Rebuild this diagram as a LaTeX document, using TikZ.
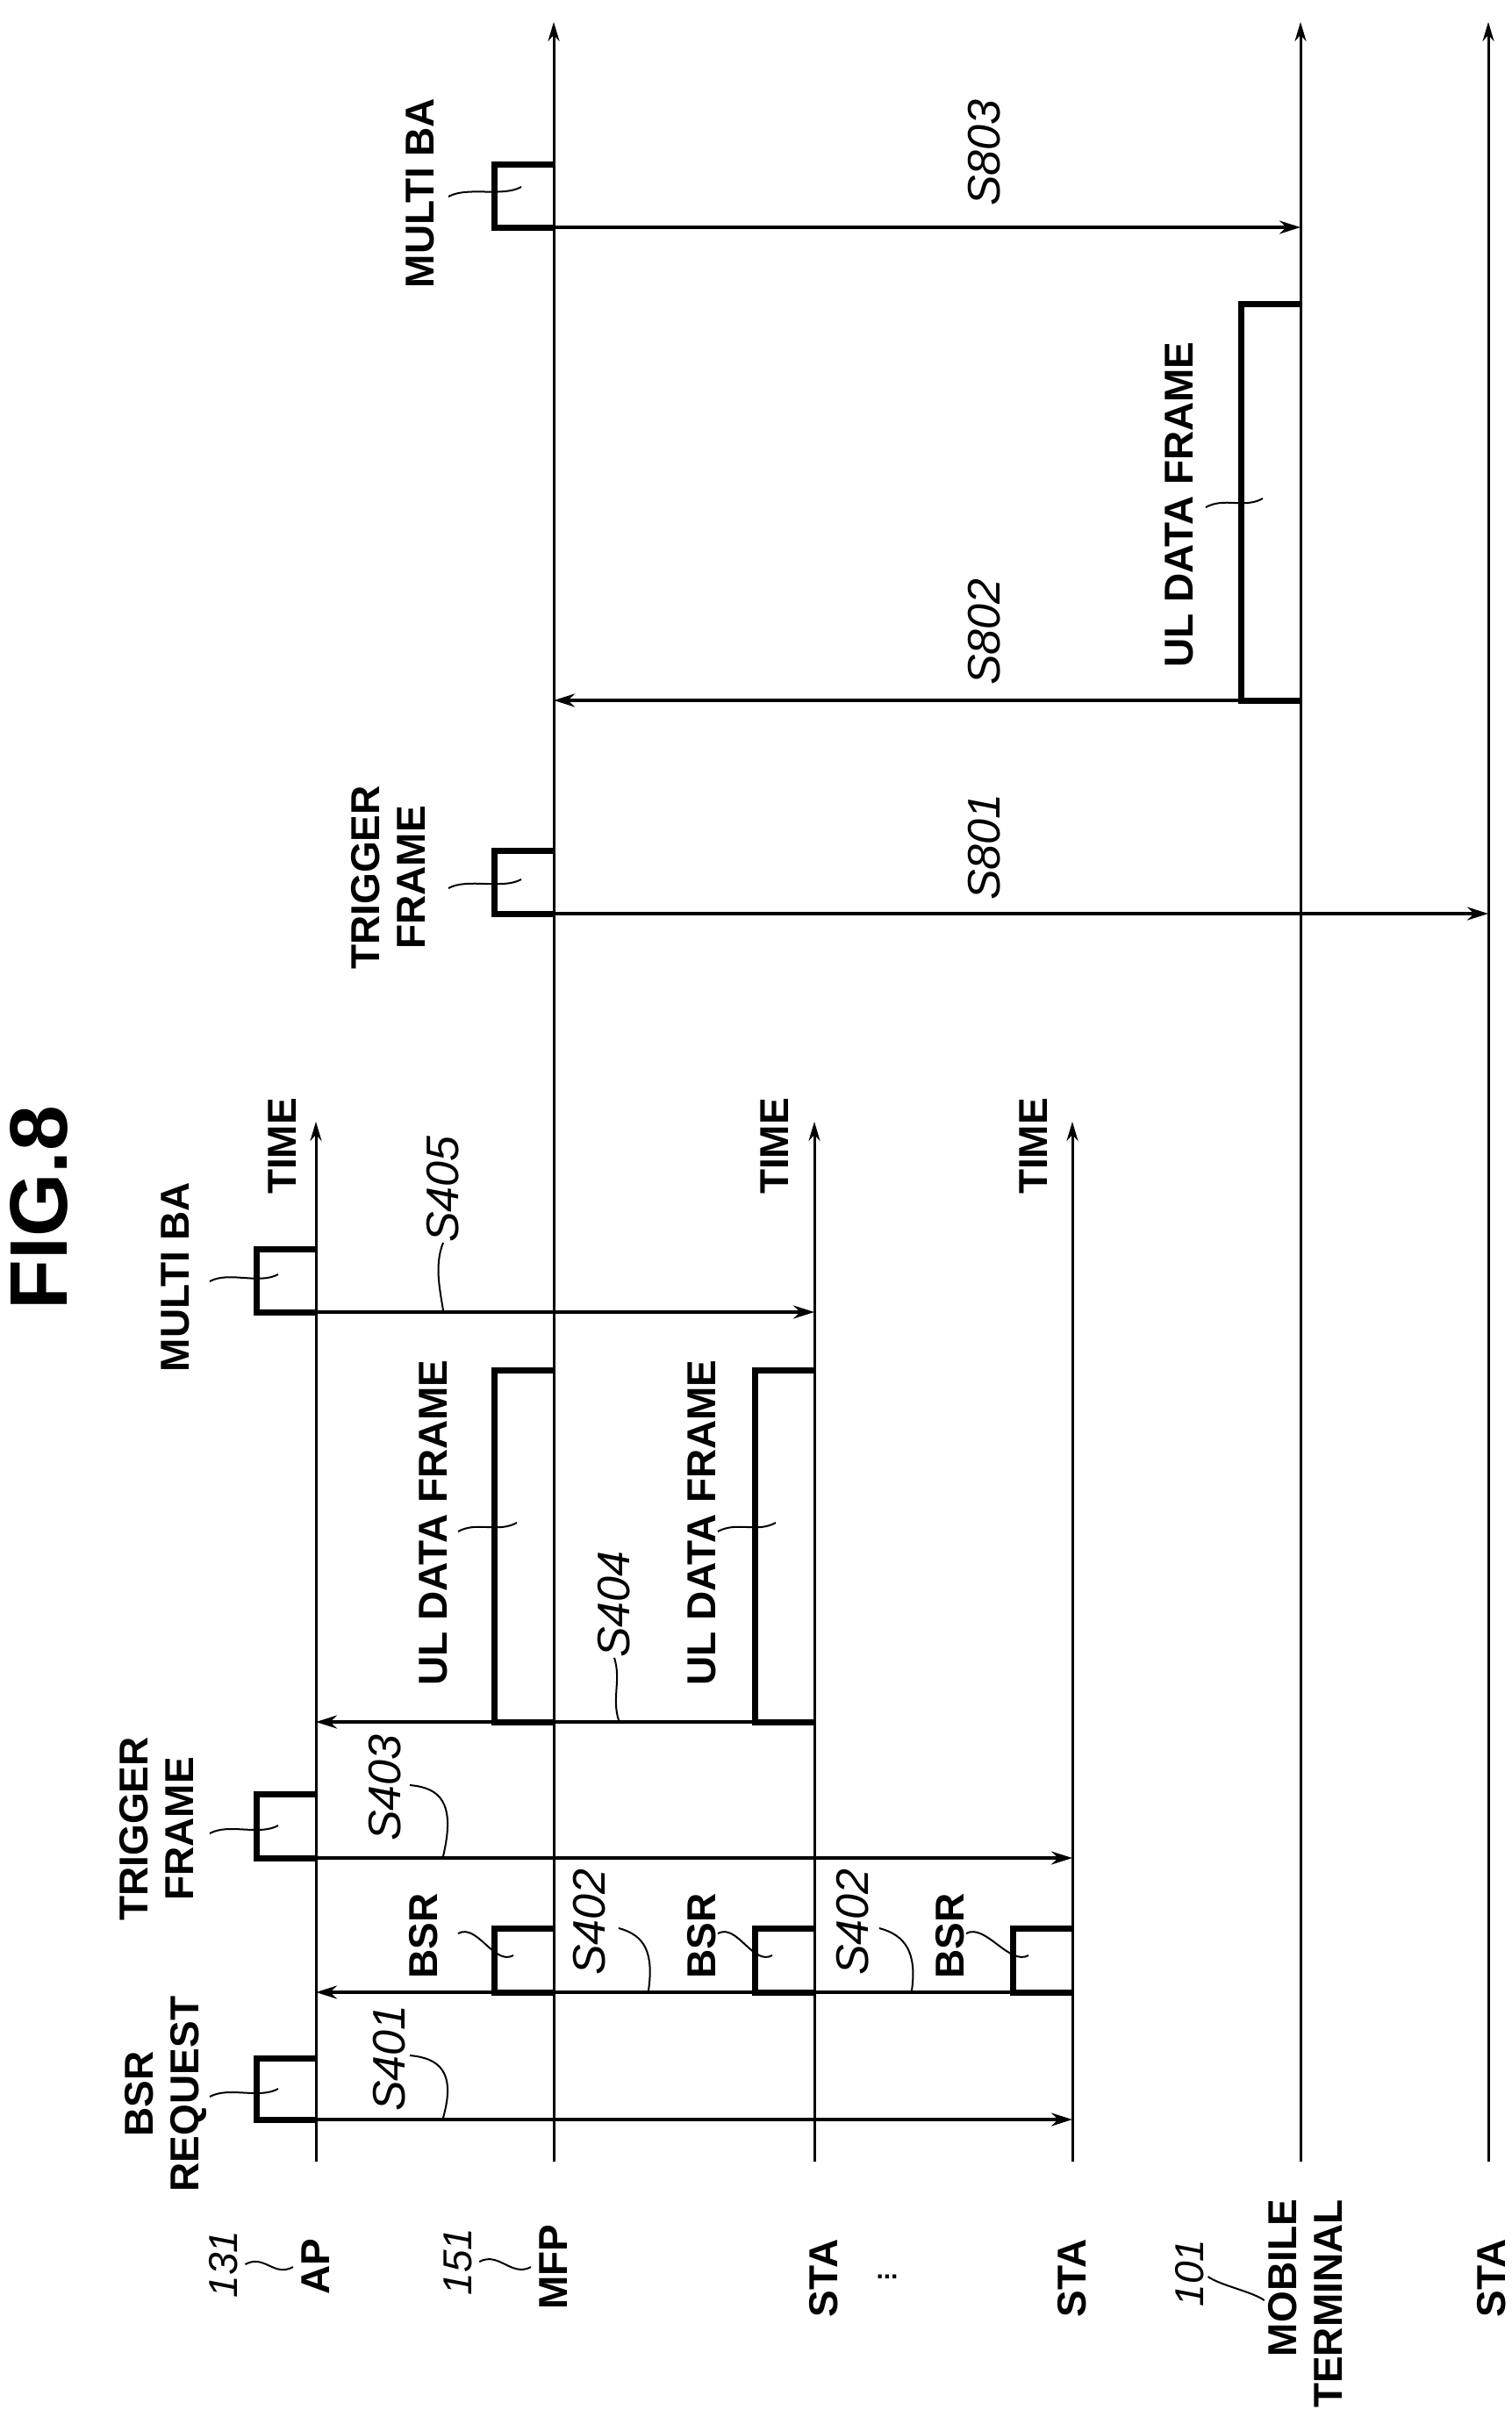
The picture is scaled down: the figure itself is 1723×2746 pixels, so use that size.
\documentclass[tikz,border=0pt]{standalone}
\usepackage{fontspec}
\setmainfont{Liberation Sans}
\usetikzlibrary{arrows.meta,calc}

\tikzset{
  lifeline/.style={line width=3pt},
  msg/.style={line width=3.5pt,-{Stealth[length=24pt,width=15pt]}},
  frm/.style={line width=7pt},
  lead/.style={line width=2pt},
  txt/.style={rotate=90,font=\fontsize{46}{52}\selectfont\bfseries,align=center,inner sep=0pt},
  steplbl/.style={rotate=90,font=\fontsize{52}{56}\selectfont\itshape,inner sep=0pt},
  reflbl/.style={rotate=90,font=\fontsize{46}{50}\selectfont\itshape,inner sep=0pt},
}
% box on a lifeline: x of line, top y, bottom y
\newcommand{\frmbox}[3]{\draw[frm] (#1,#2) -| (#1-68,#3) -- (#1,#3);}
% squiggle leader
\newcommand{\squig}[2]{\draw[lead] #1 .. controls +(22,-12) and +(-22,12) .. #2;}

\begin{document}
\begin{tikzpicture}[x=1pt,y=-1pt]
    \useasboundingbox (0,0) rectangle (1723,2746);

    % lifelines
    \foreach \n/\x/\t in {ap/360/1278,mfp/631/25,staa/928/1278,stab/1222/1278,mt/1482/25,stac/1696/25} {
        \coordinate (\n B) at (\x,2463);
        \coordinate (\n T) at (\x,\t);
        \draw[lifeline,-{Stealth[length=22pt,width=13pt]}] (\n B) -- (\n T);
    }

    \node[txt,font=\fontsize{93}{96}\selectfont\bfseries] (fig) at (44,1376) {FIG.8};
    \foreach \x [count=\i] in {322,883,1178} {\node[txt] (time\i) at (\x,1306) {TIME};}

    % labels under the lifelines
    \node[reflbl] (n131) at (255,2580) {131};
    \node[txt] (lap) at (360,2583) {AP};
    \node[reflbl] (n151) at (522,2577) {151};
    \node[txt] (lmfp) at (631,2583) {MFP};
    \node[txt] (lsta1) at (939,2596) {STA};
    \node[font=\fontsize{30}{30}\selectfont\bfseries,inner sep=0pt] (ldots) at (1011,2594) {...};
    \node[txt] (lsta2) at (1222,2596) {STA};
    \node[reflbl] (n101) at (1356,2590) {101};
    \node[txt,align=right] (lmt) at (1487,2625) {MOBILE\\TERMINAL};
    \node[txt] (lsta3) at (1700,2596) {STA};
    \squig{($(n131.south)+(8,0)$)}{($(lap.north)+(-10,0)$)}
    \squig{($(n151.south)+(8,0)$)}{($(lmfp.north)+(-10,0)$)}
    \draw[lead] ($(n101.south)+(4,4)$) .. controls +(14,10) and +(-14,-10) .. ($(lmt.north)+(-4,-4)$);

    % frames
    \frmbox{360}{2345}{2415}
    \frmbox{360}{2044}{2117}
    \frmbox{360}{1423}{1495}
    \foreach \x in {631,928,1222} {\frmbox{\x}{2197}{2270}}
    \frmbox{631}{1561}{1962}
    \frmbox{928}{1561}{1962}
    \frmbox{631}{969}{1041}
    \frmbox{631}{187}{259}
    \frmbox{1482}{346}{798}

    % frame names
    \node[txt] (bsrq) at (189,2386) {BSR\\REQUEST};
    \node[txt] (trg) at (178,2084) {TRIGGER\\FRAME};
    \node[txt] (mba) at (200,1455) {MULTI BA};
    \node[txt] (ul1) at (494,1735) {UL DATA FRAME};
    \node[txt] (ul2) at (800,1735) {UL DATA FRAME};
    \foreach \x [count=\i] in {483,800,1083} {\node[txt] (bsr\i) at (\x,2206) {BSR};}
    \node[txt] (trg2) at (442,1000) {TRIGGER\\FRAME};
    \node[txt] (mba2) at (479,220) {MULTI BA};
    \node[txt] (ul3) at (1344,575) {UL DATA FRAME};
    \squig{(239,2389)}{(317,2380)}
    \squig{(239,2089)}{(317,2080)}
    \squig{(239,1460)}{(317,1452)}
    \squig{(522,1745)}{(589,1735)}
    \squig{(818,1745)}{(884,1735)}
    \squig{(522,2203)}{(585,2228)}
    \squig{(818,2203)}{(880,2228)}
    \squig{(1101,2203)}{(1172,2228)}
    \squig{(511,1012)}{(594,1002)}
    \squig{(511,224)}{(594,213)}
    \squig{(1374,578)}{(1439,568)}

    % messages
    \draw[msg] (360,2415) -- (stabB |- 0,2415);
    \draw[msg] (1222,2270) -- (apB |- 0,2270);
    \draw[msg] (360,2117) -- (stabB |- 0,2117);
    \draw[msg] (928,1962) -- (apB |- 0,1962);
    \draw[msg] (360,1495) -- (staaB |- 0,1495);
    \draw[msg] (631,1041) -- (stacB |- 0,1041);
    \draw[msg] (1482,798) -- (mfpB |- 0,798);
    \draw[msg] (631,259) -- (mtB |- 0,259);

    % step labels
    \node[steplbl] (s401) at (444,2345) {S401};
    \node[steplbl] (s402a) at (672,2190) {S402};
    \node[steplbl] (s402b) at (972,2190) {S402};
    \node[steplbl] (s403) at (439,2037) {S403};
    \node[steplbl] (s404) at (700,1828) {S404};
    \node[steplbl] (s405) at (505,1355) {S405};
    \node[steplbl] (s801) at (1122,965) {S801};
    \node[steplbl] (s802) at (1122,720) {S802};
    \node[steplbl] (s803) at (1122,174) {S803};
    \draw[lead] (467,2342) .. controls (500,2345) and (520,2360) .. (505,2413);
    \draw[lead] (467,2034) .. controls (500,2037) and (520,2052) .. (505,2115);
    \draw[lead] (705,2197) .. controls (735,2205) and (745,2225) .. (739,2268);
    \draw[lead] (1002,2197) .. controls (1032,2205) and (1045,2225) .. (1039,2268);
    \draw[lead] (s404.west) .. controls +(8,25) and +(-8,-25) .. (705,1960);
    \draw[lead] (s405.west) .. controls +(-10,25) and +(-4,-25) .. (505,1493);
\end{tikzpicture}
\end{document}
